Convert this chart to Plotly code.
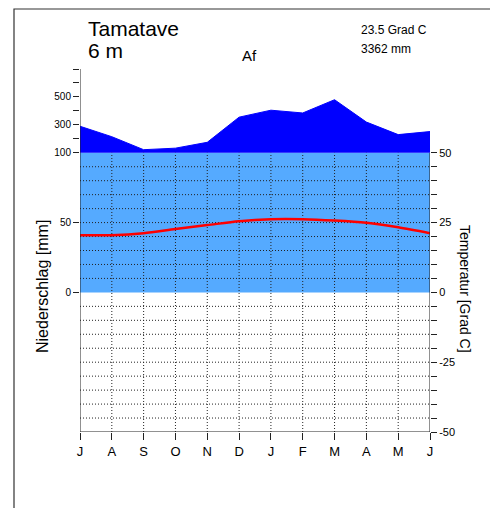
import plotly.graph_objects as go

# ---- data ----
months = ["J", "A", "S", "O", "N", "D", "J", "F", "M", "A", "M", "J"]
precip_mm = [290, 215, 122, 133, 175, 355, 405, 385, 480, 320, 230, 252]
temp_c = [20.5, 20.5, 21.2, 22.7, 24.1, 25.5, 26.2, 26.2, 25.7, 24.9, 23.3, 21.2]
station = "Tamatave"
elevation = "6 m"
climate_class = "Af"
mean_temp_label = "23.5 Grad C"
annual_precip_label = "3362 mm"
precip_ticks = [0, 50, 100, 200, 300, 400, 500, 600, 700]
precip_ticklabels = ["0", "50", "100", "", "300", "", "500", "", ""]
temp_ticks = list(range(-50, 55, 5))
temp_ticklabels = [str(t) if t % 25 == 0 else "" for t in temp_ticks]

FONT = "Liberation Sans, Arial, Helvetica, sans-serif"
W, H = 490, 508
ML, MR, MT, MB = 80, 60, 69, 76
PW, PH = W - ML - MR, H - MT - MB


def p2y(p):
    """Walter-Lieth scale: 2 mm per degC up to 100 mm, then 20 mm per degC."""
    return p / 2 if p <= 100 else 50 + (p - 100) / 20


def px(xp):
    return (xp - ML) / PW


def py(yp):
    return (H - MB - yp) / PH


x = list(range(len(months)))
fig = go.Figure()

# light blue humid area (0..100 mm)
fig.add_trace(go.Scatter(x=x, y=[p2y(min(p, 100)) for p in precip_mm], mode="lines",
                         line=dict(width=0, color="#55AAFF"), fill="tozeroy",
                         fillcolor="#55AAFF", hoverinfo="skip", showlegend=False))
# dark blue perhumid area (>100 mm)
fig.add_trace(go.Scatter(x=x, y=[p2y(p) for p in precip_mm], mode="lines",
                         line=dict(width=1, color="#0000FF"), fill="tonexty",
                         fillcolor="#0000FF", hoverinfo="skip", showlegend=False))

# dotted grid
gx, gy = [], []
for t in temp_ticks:
    if abs(t) in (0, 50):
        continue
    gx += [x[0], x[-1], None]
    gy += [t, t, None]
for i in x[1:-1]:
    gx += [i, i, None]
    gy += [temp_ticks[0], temp_ticks[-1], None]
fig.add_trace(go.Scatter(x=gx, y=gy, mode="lines",
                         line=dict(width=1, color="#222222", dash="1px,2px"),
                         hoverinfo="skip", showlegend=False))

# temperature
fig.add_trace(go.Scatter(x=x, y=temp_c, mode="lines",
                         line=dict(width=2.5, color="#FF0000", shape="spline", smoothing=0.8),
                         cliponaxis=False, showlegend=False))

# right axis dummy trace
fig.add_trace(go.Scatter(x=[x[0]], y=[0], yaxis="y2", mode="markers",
                         marker=dict(opacity=0), hoverinfo="skip", showlegend=False))

ymin, ymax = temp_ticks[0], p2y(precip_ticks[-1])

shapes = [
    dict(type="line", xref="x", yref="y", x0=x[0], x1=x[0], y0=ymin, y1=ymax,
         line=dict(color="#222222", width=1)),
    dict(type="line", xref="x", yref="y", x0=x[-1], x1=x[-1], y0=ymin, y1=temp_ticks[-1],
         line=dict(color="#222222", width=1)),
    dict(type="line", xref="x", yref="y", x0=x[0], x1=x[-1], y0=ymin, y1=ymin,
         line=dict(color="#222222", width=1)),
    dict(type="rect", xref="paper", yref="paper", x0=px(14), x1=px(500), y0=py(520), y1=py(9),
         line=dict(color="#333333", width=1.2)),
]

ann = [
    dict(text=station, x=px(86), y=py(28), xanchor="left", yanchor="middle",
         font=dict(size=21, color="black")),
    dict(text=elevation, x=px(86), y=py(50), xanchor="left", yanchor="middle",
         font=dict(size=21, color="black")),
    dict(text=climate_class, x=px(249), y=py(55), xanchor="center", yanchor="middle",
         font=dict(size=15, color="black")),
    dict(text=mean_temp_label, x=px(359), y=py(30), xanchor="left", yanchor="middle",
         font=dict(size=12, color="black")),
    dict(text=annual_precip_label, x=px(359), y=py(49), xanchor="left", yanchor="middle",
         font=dict(size=12, color="black")),
    dict(text="Niederschlag [mm]", x=px(42), y=py(287), xanchor="center", yanchor="middle",
         textangle=-90, font=dict(size=16, color="black")),
    dict(text="Temperatur [Grad C]", x=px(465), y=py(289), xanchor="center", yanchor="middle",
         textangle=90, font=dict(size=14, color="black")),
]
for a in ann:
    a.update(xref="paper", yref="paper", showarrow=False)

fig.update_layout(
    width=W, height=H,
    margin=dict(l=ML, r=MR, t=MT, b=MB),
    paper_bgcolor="white", plot_bgcolor="rgba(0,0,0,0)",
    font=dict(family=FONT, color="black"),
    showlegend=False,
    shapes=shapes,
    annotations=ann,
    xaxis=dict(range=[x[0], x[-1]], tickmode="array", tickvals=x, ticktext=months,
               ticks="outside", ticklen=7, tickcolor="#222222", showgrid=False,
               zeroline=False, showline=False, tickfont=dict(size=13), fixedrange=True),
    yaxis=dict(range=[ymin, ymax], tickmode="array",
               tickvals=[p2y(p) for p in precip_ticks], ticktext=precip_ticklabels,
               ticks="outside", ticklen=6, tickcolor="#222222", showgrid=False,
               zeroline=False, showline=False, tickfont=dict(size=10)),
    yaxis2=dict(range=[ymin, ymax], overlaying="y", side="right", anchor="x",
                tickmode="array", tickvals=temp_ticks, ticktext=temp_ticklabels,
                ticks="outside", ticklen=6, tickcolor="#222222", showgrid=False,
                zeroline=False, showline=False, tickfont=dict(size=11)),
)

fig.write_html("out.html", config={"displayModeBar": False},
               post_script="document.body.style.margin='0';document.body.style.overflow='hidden';")
